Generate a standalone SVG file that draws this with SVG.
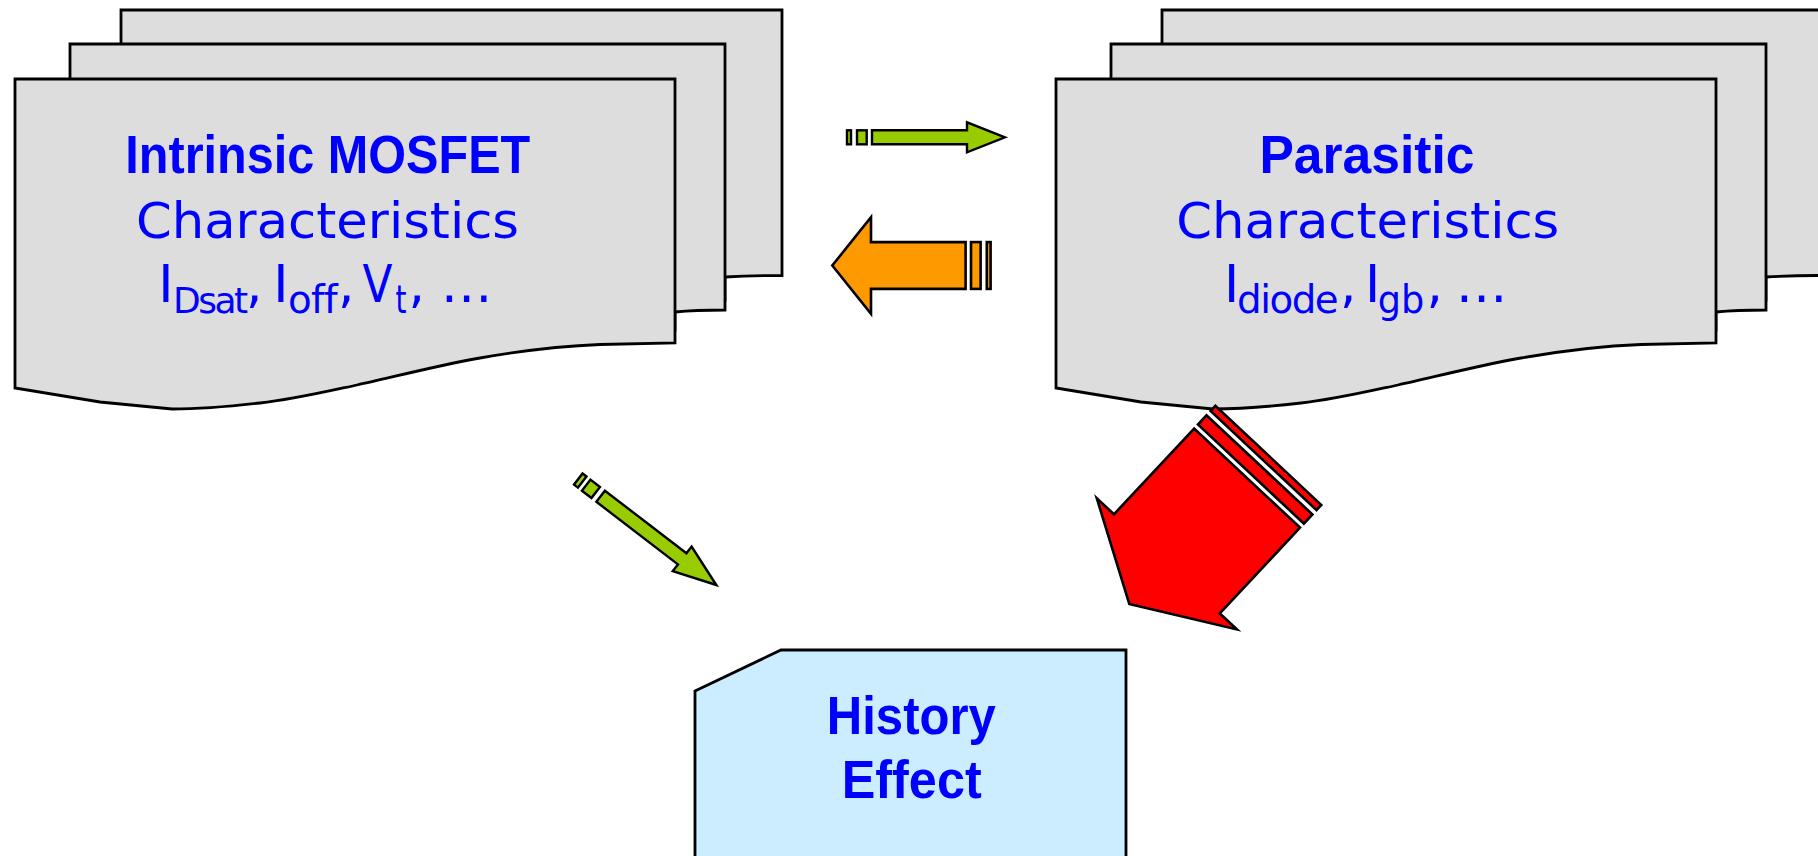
<svg xmlns="http://www.w3.org/2000/svg" width="1818" height="856" viewBox="0 0 1818 856">
  <style>
    .sheet { fill: #DDDDDD; stroke: #000; stroke-width: 2.8; stroke-linejoin: miter; }
    .hist { fill: #CCECFF; stroke: #000; stroke-width: 2.8; }
    .title { font-family: "Liberation Sans", Arial, sans-serif; font-weight: bold; font-size: 53.5px; fill: #0000FF; }
    .sub { font-family: "DejaVu Sans", "Liberation Sans", sans-serif; font-size: 50.3px; fill: #0000FF; }
    .line3 { font-family: "DejaVu Sans", "Liberation Sans", sans-serif; fill: #0000FF; }
    .big { font-size: 51.7px; }
    .small { font-size: 38.8px; }
    .green { fill: #99CC00; stroke: #000; stroke-width: 2.4; }
    .orange { fill: #FF9900; stroke: #000; stroke-width: 2.6; }
    .red { fill: #FF0000; stroke: #000; stroke-width: 2.6; }
  </style>
  <defs>
    <!-- stack of three sheets; the front one has a wavy lower edge -->
    <g id="sheetStack">
      <path class="sheet" d="M121,10 H782 V275.5 C762,275.5 742,276 725,277 V300 H121 Z"/>
      <path class="sheet" d="M70,44 H725 V310 C705,310 690,310.5 675,312 V330 H70 Z"/>
      <path class="sheet" d="M15,79 H675 V343 L600,344.5 C560,346 520,351 480,358 C430,367 390,378 357,385 C320,393 290,400 260,403 C230,406.5 200,409 172,409 L100,402 L15,388 Z"/>
    </g>
    <!-- slim green arrow, tip at origin pointing along +x -->
    <g id="greenArrow">
      <path class="green" d="M0,0 L-38,-15 L-38,-7 L-133,-7 L-133,7 L-38,7 L-38,15 Z"/>
      <rect class="green" x="-148" y="-7" width="9.7" height="14"/>
      <rect class="green" x="-158" y="-7" width="4" height="14"/>
    </g>
  </defs>

  <g id="intrinsic-mosfet">
    <use href="#sheetStack"/>
    <text class="title" x="327.8" y="173.3" text-anchor="middle" textLength="405" lengthAdjust="spacingAndGlyphs">Intrinsic MOSFET</text>
    <text class="sub" x="327.5" y="238.3" text-anchor="middle" textLength="383" lengthAdjust="spacingAndGlyphs">Characteristics</text>
    <text class="line3" x="158.2" y="301.7"><tspan class="big" y="301.7">I</tspan><tspan font-size="36" letter-spacing="-2.5" dx="-0.45" y="313.3">Dsat</tspan><tspan class="big" dx="0.34" y="301.7">,</tspan><tspan font-size="33.84" y="301.7"> </tspan><tspan class="big" y="301.7">I</tspan><tspan class="small" letter-spacing="-0.7" dx="-0.45" y="313.3">off</tspan><tspan class="big" dx="1.04" y="301.7">,</tspan><tspan font-size="25.3" y="301.7"> </tspan><tspan class="big" y="301.7" textLength="30" lengthAdjust="spacingAndGlyphs">V</tspan><tspan class="small" dx="-2.36" y="313.3" textLength="11" lengthAdjust="spacingAndGlyphs">t</tspan><tspan class="big" dx="-2.21" y="301.7">,</tspan><tspan font-size="49.6" y="301.7"> </tspan><tspan class="big" y="301.7">…</tspan></text>
  </g>

  <g id="parasitic">
    <use href="#sheetStack" transform="translate(1041,0)"/>
    <text class="title" x="1366.9" y="173.3" text-anchor="middle" textLength="215" lengthAdjust="spacingAndGlyphs">Parasitic</text>
    <text class="sub" x="1367.8" y="238.3" text-anchor="middle" textLength="383" lengthAdjust="spacingAndGlyphs">Characteristics</text>
    <text class="line3" x="1223.9" y="301.7"><tspan class="big" y="301.7">I</tspan><tspan class="small" letter-spacing="-1.5" dx="-2.05" y="313.3">diode</tspan><tspan class="big" dx="2.73" y="301.7">,</tspan><tspan font-size="26.6" y="301.7"> </tspan><tspan class="big" y="301.7">I</tspan><tspan class="small" dx="-2.35" y="313.3" textLength="46.5" lengthAdjust="spacingAndGlyphs">gb</tspan><tspan class="big" dx="-0.58" y="301.7">,</tspan><tspan font-size="40.1" y="301.7"> </tspan><tspan class="big" y="301.7">…</tspan></text>
  </g>

  <g id="history-effect">
    <path class="hist" d="M695,691 L781,650 L1126,650 L1126,870 L695,870 Z"/>
    <text class="title" x="911.3" y="734" text-anchor="middle" font-size="52" textLength="169" lengthAdjust="spacingAndGlyphs">History</text>
    <text class="title" x="911.7" y="797.7" text-anchor="middle" font-size="52" textLength="140" lengthAdjust="spacingAndGlyphs">Effect</text>
  </g>

  <g id="connectors">
    <!-- intrinsic -> parasitic -->
    <use href="#greenArrow" transform="translate(1005,137.3)"/>
    <!-- parasitic -> intrinsic -->
    <g transform="translate(832.3,265.5) rotate(180)">
      <path class="orange" d="M0,0 L-38.7,-48.3 L-38.7,-23.4 L-133.3,-23.4 L-133.3,23.4 L-38.7,23.4 L-38.7,48.3 Z"/>
      <rect class="orange" x="-148.3" y="-23.4" width="9.6" height="46.8"/>
      <rect class="orange" x="-158.3" y="-23.4" width="3.8" height="46.8"/>
    </g>
    <!-- intrinsic -> history -->
    <g transform="translate(716.3,585) rotate(37.5)">
      <path class="green" d="M0,0 L-43,-15.5 L-43,-7 L-145.8,-7 L-145.8,7 L-43,7 L-43,15.5 Z"/>
      <rect class="green" x="-164" y="-7" width="12" height="14"/>
      <rect class="green" x="-174" y="-7" width="5" height="14"/>
    </g>
    <!-- parasitic -> history -->
    <g transform="translate(1129.3,604) rotate(133.1)">
      <path class="red" d="M0,0 L-55,-96 L-55,-72.5 L-172.4,-72.5 L-172.4,72.5 L-55,72.5 L-55,96 Z"/>
      <rect class="red" x="-190.5" y="-72.5" width="12.5" height="145"/>
      <rect class="red" x="-203.5" y="-72.5" width="7" height="145"/>
    </g>
  </g>
</svg>
